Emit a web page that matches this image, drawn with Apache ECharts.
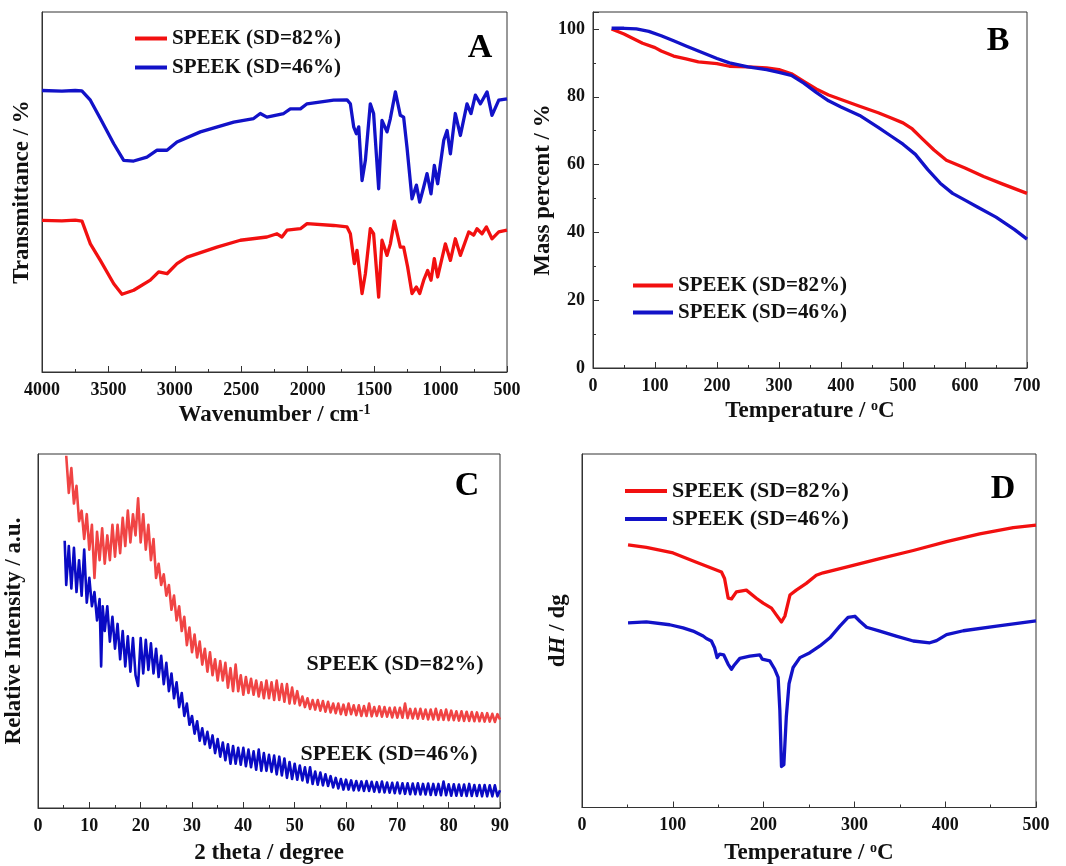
<!DOCTYPE html>
<html>
<head>
<meta charset="utf-8">
<script src="https://cdn.jsdelivr.net/npm/echarts@6/dist/echarts.min.js"></script>
<style>
html,body{margin:0;padding:0;background:#fff;}
#chart{width:1066px;height:866px;}
</style>
</head>
<body>
<div id="chart"></div>
<script>
// ---------- DATA ----------
const seriesNames = ['SPEEK (SD=82%)', 'SPEEK (SD=46%)'];
const panelLetters = ['A', 'B', 'C', 'D'];

// Panel A: FTIR, [wavenumber, transmittance (a.u.)]
const ftirSD82 = [[4000,42.1],[3850,42.0],[3750,42.2],[3699,41.9],[3636,35.6],[3561,31.0],[3460,24.5],[3398,21.6],[3310,22.7],[3185,25.5],[3122,27.8],[3059,27.3],[2984,30.1],[2908,31.9],[2683,34.7],[2507,36.6],[2307,37.5],[2231,38.4],[2194,37.5],[2156,39.4],[2055,39.8],[2005,41.2],[1805,40.7],[1704,40.3],[1679,38.4],[1649,30.1],[1629,33.8],[1591,21.8],[1566,27.3],[1529,39.8],[1504,38.4],[1466,20.8],[1441,36.6],[1403,32.4],[1378,35.6],[1348,41.9],[1303,34.7],[1278,34.7],[1248,29.2],[1215,21.8],[1182,23.6],[1157,21.8],[1127,25.5],[1097,28.2],[1072,25.5],[1047,31.5],[1022,26.4],[964,35.6],[926,31.0],[889,37.0],[851,32.4],[788,38.9],[751,38.0],[726,39.8],[688,38.4],[655,40.3],[613,37.0],[562,38.9],[500,39.4]];
const ftirSD46 = [[4000,78.2],[3850,78.0],[3750,78.2],[3700,78.1],[3636,75.5],[3561,70.4],[3460,63.4],[3385,58.8],[3310,58.6],[3210,59.7],[3134,61.6],[3059,61.6],[2984,63.9],[2808,66.7],[2557,69.4],[2407,70.4],[2357,71.8],[2307,70.8],[2181,71.8],[2131,73.1],[2055,73.1],[2005,74.5],[1805,75.5],[1704,75.6],[1679,74.5],[1654,68.1],[1634,66.2],[1616,68.1],[1591,53.2],[1566,58.8],[1529,74.5],[1504,71.8],[1466,50.9],[1441,69.9],[1403,66.7],[1378,70.4],[1340,77.8],[1303,71.3],[1278,70.8],[1253,62.5],[1215,48.1],[1182,51.9],[1157,47.2],[1127,51.4],[1102,55.1],[1072,49.5],[1047,57.4],[1022,52.3],[976,64.4],[951,67.1],[926,60.6],[889,71.8],[851,65.7],[801,74.5],[771,71.8],[738,76.9],[700,74.5],[650,77.8],[613,71.3],[562,75.5],[500,75.9]];

// Panel B: TGA, [temperature, mass percent]
const tgaSD82 = [[30,100],[50,98.5],[80,95.8],[100,94.5],[110,93.5],[130,92],[150,91.2],[170,90.3],[200,89.8],[220,89],[250,88.8],[280,88.5],[300,88],[320,86.8],[340,84.5],[360,82.3],[380,80.5],[400,79.2],[430,77.2],[460,75.3],[480,73.8],[500,72.3],[515,70.5],[530,67.8],[550,64.3],[570,61.3],[600,59],[630,56.5],[660,54.3],[700,51.5]];
const tgaSD46 = [[30,100.2],[50,100.2],[70,100],[90,99.3],[110,98],[130,96.5],[150,95],[170,93.5],[200,91.3],[220,90],[250,88.8],[280,88],[300,87.2],[320,86.3],[340,84],[360,81.3],[380,78.8],[400,77],[430,74.5],[460,71],[480,68.5],[500,66],[520,63],[540,58.5],[560,54.5],[580,51.5],[600,49.5],[620,47.5],[650,44.5],[680,40.8],[700,38]];

// Panel C: XRD, [2 theta, relative intensity (a.u.)]
const xrdSD82 = [[5.5,99.5],[6,89],[6.5,96],[7,86],[7.5,91],[8,81],[8.5,84],[9,76],[9.5,83],[10,73],[10.5,80],[11,65],[11.5,78],[12,70],[12.5,79],[13,69],[13.5,77],[14,70],[14.5,80],[15,71],[15.5,80],[16,72],[16.5,82],[17,74],[17.5,84],[18,75],[18.5,83],[19,77],[19.5,87.5],[20,75],[20.5,83],[21,73],[21.5,80],[22,70],[22.5,76],[23,65],[23.5,69],[24,63],[24.5,66],[25,60],[25.5,63],[26,56],[26.5,60],[27,53],[27.5,57],[28,50],[28.5,54],[29,46],[29.5,51],[30,44],[30.5,49],[31,42.5],[31.5,47],[32,40.5],[32.5,45],[33,38.5],[33.5,44],[34,37.5],[34.5,42],[35,36],[35.5,41.5],[36,36],[36.5,41],[37,34],[37.5,39.5],[38,33],[38.5,40.5],[39,33],[39.5,37.5],[40,32],[40.5,37],[41,32.5],[41.5,36.5],[42,32],[42.5,36],[43,31.5],[43.5,35.5],[44,31],[44.5,36],[45,31],[45.5,35.5],[46,30.5],[46.5,36],[47,30.5],[47.5,35],[48,30],[48.5,35],[49,29.5],[49.5,34],[50,29.5],[50.5,33],[51,29],[51.5,31.5],[52,28.5],[52.5,31],[53,28],[53.5,30.5],[54,27.8],[54.5,30.5],[55,27.5],[55.5,30.2],[56,27.2],[56.5,30],[57,27],[57.5,29.5],[58,26.8],[58.5,29.5],[59,26.5],[59.5,29.2],[60,26.3],[60.5,29.5],[61,26.5],[61.5,29],[62,26.2],[62.5,29],[63,26],[63.5,28.8],[64,26],[64.5,29.5],[65,25.9],[65.5,28.5],[66,26],[66.5,28.7],[67,25.8],[67.5,28.5],[68,25.8],[68.5,28.3],[69,25.6],[69.5,28.4],[70,25.5],[70.5,28.3],[71,25.5],[71.5,29.5],[72,25.4],[72.5,28],[73,25.3],[73.5,28],[74,25.2],[74.5,28],[75,25.2],[75.5,27.8],[76,25],[76.5,27.8],[77,25],[77.5,28],[78,24.9],[78.5,27.6],[79,24.9],[79.5,27.8],[80,24.8],[80.5,27.5],[81,24.8],[81.5,27.3],[82,24.7],[82.5,27.3],[83,24.6],[83.5,27.2],[84,24.6],[84.5,27.1],[85,24.5],[85.5,27],[86,24.5],[86.5,26.8],[87,24.4],[87.5,26.8],[88,24.4],[88.5,26.6],[89,24.3],[89.5,26.5],[90,25]];
const xrdSD46 = [[5.2,75.5],[5.5,63],[6,74],[6.5,62],[7,73.5],[7.5,61],[8,70],[8.5,60],[9,73],[9.5,58],[10,65],[10.5,57],[11,61],[11.5,53],[12,59],[12.3,40],[12.6,57],[13,50],[13.5,57],[14,47],[14.5,54],[15,45],[15.5,52],[16,42],[16.5,50],[17,40],[17.5,48.5],[18,38.5],[18.5,48],[19,37.5],[19.5,34.5],[20,48],[20.5,38],[21,47.5],[21.5,39],[22,46.5],[22.5,38],[23,45],[23.5,37],[24,43],[24.5,35],[25,41],[25.5,33],[26,38],[26.5,31],[27,35.5],[27.5,28.5],[28,32.5],[28.5,26],[29,29.5],[29.5,23.5],[30,26],[30.5,21],[31,24.5],[31.5,19],[32,22.5],[32.5,18],[33,21.5],[33.5,17],[34,20.5],[34.5,15.5],[35,19.5],[35.5,14.5],[36,18.5],[36.5,13.5],[37,18],[37.5,12.5],[38,17.5],[38.5,12.5],[39,17],[39.5,12.2],[40,17],[40.5,11.8],[41,16.5],[41.5,11.5],[42,16],[42.5,10.8],[43,16.5],[43.5,10.5],[44,15.5],[44.5,10.5],[45,15],[45.5,10.2],[46,14.8],[46.5,9.5],[47,14.5],[47.5,9.2],[48,14],[48.5,8.5],[49,13],[49.5,8.2],[50,12.5],[50.5,8],[51,12],[51.5,7.8],[52,11.5],[52.5,7.2],[53,11.5],[53.5,6.8],[54,10.3],[54.5,6.6],[55,10],[55.5,6.4],[56,9.5],[56.5,6.2],[57,9],[57.5,5.8],[58,8.5],[58.5,5.5],[59,8.2],[59.5,5.2],[60,8],[60.5,5.2],[61,7.8],[61.5,5],[62,7.6],[62.5,5],[63,7.5],[63.5,4.8],[64,7.6],[64.5,4.8],[65,7.4],[65.5,4.6],[66,7.3],[66.5,4.5],[67,7.5],[67.5,4.4],[68,7.2],[68.5,4.3],[69,7.1],[69.5,4.2],[70,7.2],[70.5,4.1],[71,7],[71.5,4],[72,7],[72.5,3.9],[73,6.9],[73.5,3.9],[74,7],[74.5,3.8],[75,6.8],[75.5,3.8],[76,6.9],[76.5,3.7],[77,6.8],[77.5,3.7],[78,6.8],[78.5,3.6],[79,7.5],[79.5,3.6],[80,6.7],[80.5,3.5],[81,6.7],[81.5,3.5],[82,6.6],[82.5,3.5],[83,6.6],[83.5,3.4],[84,6.8],[84.5,3.4],[85,6.5],[85.5,3.4],[86,6.5],[86.5,3.3],[87,6.5],[87.5,3.3],[88,6.4],[88.5,3.3],[89,6.4],[89.5,3.3],[90,5]];

// Panel D: DSC, [temperature, dH/dg (a.u.)]
const dscSD82 = [[50.7,74.3],[70.9,73.6],[100.3,72.0],[126,69.4],[153.6,66.6],[157,64.8],[161,59.2],[164.6,59.0],[170,61.0],[181,61.5],[192,59.2],[199.5,57.8],[208.7,56.4],[214,54.5],[219.7,52.5],[223.4,54.1],[229,60.1],[236,61.5],[247,63.4],[258,65.7],[265.6,66.4],[291,68.0],[328,70.4],[364.8,72.7],[401.5,75.2],[438,77.4],[475,79.2],[500,79.9]];
const dscSD46 = [[50.7,52.2],[70.9,52.5],[96.6,51.7],[111.3,50.8],[122.3,49.9],[133.4,48.5],[137,47.8],[142.5,47.1],[146,45.2],[148.8,42.4],[151.7,43.4],[156,43.2],[161,40.5],[164.6,39.1],[168,40.4],[173.8,42.2],[184.8,42.8],[195.8,43.2],[198.4,42.0],[206.8,41.5],[212.3,39.1],[216,36.8],[217.9,27.5],[219.7,11.6],[222.3,12.1],[225,25.6],[228,35.0],[232.5,39.6],[240,42.4],[251,43.8],[262,45.7],[273,48.0],[284,51.3],[293,53.8],[300.5,54.1],[306,52.7],[313.4,51.0],[328,49.9],[346,48.5],[364.8,47.1],[383,46.6],[390.5,47.2],[401.5,48.9],[420,50.0],[456.7,51.3],[500,52.8]];

// ---------- STYLE ----------
const FONT = '"Liberation Serif","Times New Roman",serif';
const INK = '#111';
const RED = '#f21010';
const BLUE = '#1212c8';
const RED_C = '#f04444';
const BLUE_C = '#0a0ac4';

const chart = echarts.init(document.getElementById('chart'), null, {renderer: 'canvas'});

function xAxisCfg(gridIndex, opts) {
  return Object.assign({
    gridIndex: gridIndex,
    type: 'value',
    nameLocation: 'middle',
    nameGap: 31,
    nameTextStyle: {
      fontFamily: FONT, fontWeight: 'bold', fontSize: 23, color: INK,
      rich: {
        sup: {fontFamily: FONT, fontWeight: 'bold', fontSize: 14, color: INK, verticalAlign: 'top', lineHeight: 24}
      }
    },
    axisLine: {show: true, onZero: false, lineStyle: {color: '#333', width: 1}},
    axisTick: {show: true, inside: true, length: 6, lineStyle: {color: '#333'}},
    minorTick: {show: true, splitNumber: 2, length: 3, lineStyle: {color: '#333'}},
    axisLabel: {fontFamily: FONT, fontWeight: 'bold', fontSize: 18, color: INK, margin: 9,
      formatter: function (v) { return String(v); }},
    splitLine: {show: false}
  }, opts);
}
function yAxisCfg(gridIndex, opts) {
  return Object.assign({
    gridIndex: gridIndex,
    type: 'value',
    nameLocation: 'middle',
    nameRotate: 90,
    nameTextStyle: {
      fontFamily: FONT, fontWeight: 'bold', fontSize: 23, color: INK,
      rich: {
        it: {fontFamily: FONT, fontWeight: 'bold', fontStyle: 'italic', fontSize: 23, color: INK}
      }
    },
    axisLine: {show: true, onZero: false, lineStyle: {color: '#333', width: 1}},
    axisTick: {show: false},
    axisLabel: {show: false},
    splitLine: {show: false}
  }, opts);
}

const gridBase = {show: true, borderColor: '#333', borderWidth: 1, backgroundColor: 'transparent', containLabel: false};

function lineSeries(name, data, idx, color, width) {
  return {
    name: name, type: 'line', data: data,
    xAxisIndex: idx, yAxisIndex: idx,
    showSymbol: false, symbol: 'none', smooth: false,
    lineStyle: {color: color, width: width, join: 'round'},
    itemStyle: {color: color},
    animation: false, silent: true
  };
}

function legendCfg(left, top, iconW, gap, fs) {
  return {
    data: seriesNames, orient: 'vertical', left: left, top: top,
    padding: 0,
    icon: 'rect', itemWidth: iconW, itemHeight: 4, itemGap: gap,
    selectedMode: false,
    textStyle: {fontFamily: FONT, fontWeight: 'bold', fontSize: fs, color: INK}
  };
}

const option = {
  backgroundColor: '#fff',
  animation: false,
  grid: [
    Object.assign({left: 42, top: 12, width: 465, height: 360}, gridBase),
    Object.assign({left: 593, top: 12, width: 434, height: 356}, gridBase),
    Object.assign({left: 38, top: 454, width: 462, height: 356}, gridBase),
    Object.assign({left: 582, top: 454, width: 454, height: 358}, gridBase)
  ],
  xAxis: [
    xAxisCfg(0, {min: 500, max: 4000, interval: 500, inverse: true, name: 'Wavenumber / cm{sup|-1}'}),
    xAxisCfg(1, {min: 0, max: 700, interval: 100, name: 'Temperature / {sup|o}C'}),
    xAxisCfg(2, {min: 0, max: 90, interval: 10, name: '2 theta / degree', nameGap: 34}),
    xAxisCfg(3, {min: 0, max: 500, interval: 100, name: 'Temperature / {sup|o}C', nameGap: 34})
  ],
  yAxis: [
    yAxisCfg(0, {min: 0, max: 100, name: 'Transmittance / %', nameGap: 8}),
    yAxisCfg(1, {min: 0, max: 105, interval: 20, name: 'Mass percent / %', nameGap: 35,
      axisTick: {show: true, inside: true, length: 6, lineStyle: {color: '#333'}},
      minorTick: {show: true, splitNumber: 2, length: 3, lineStyle: {color: '#333'}},
      axisLabel: {show: true, fontFamily: FONT, fontWeight: 'bold', fontSize: 18, color: INK, margin: 8, showMaxLabel: false}}),
    yAxisCfg(2, {min: 0, max: 100, name: 'Relative Intensity / a.u.', nameGap: 12}),
    yAxisCfg(3, {min: 0, max: 100, name: 'd{it|H} / dg', nameGap: 12})
  ],
  legend: [
    legendCfg(135, 28, 32, 8, 21),
    legendCfg(633, 275, 40, 6, 21),
    legendCfg(625, 480, 42, 6, 22)
  ],
  series: [
    lineSeries(seriesNames[0], ftirSD82, 0, RED, 3.3),
    lineSeries(seriesNames[1], ftirSD46, 0, BLUE, 3.3),
    lineSeries(seriesNames[0], tgaSD82, 1, RED, 3.3),
    lineSeries(seriesNames[1], tgaSD46, 1, BLUE, 3.3),
    lineSeries(seriesNames[0], xrdSD82, 2, RED_C, 2.6),
    lineSeries(seriesNames[1], xrdSD46, 2, BLUE_C, 2.6),
    lineSeries(seriesNames[0], dscSD82, 3, RED, 3.3),
    lineSeries(seriesNames[1], dscSD46, 3, BLUE, 3.3)
  ],
  graphic: [
    {type: 'text', x: 480, y: 48, style: {text: panelLetters[0], font: 'bold 34px ' + FONT, fill: '#000', align: 'center', verticalAlign: 'middle'}},
    {type: 'text', x: 998, y: 41, style: {text: panelLetters[1], font: 'bold 34px ' + FONT, fill: '#000', align: 'center', verticalAlign: 'middle'}},
    {type: 'text', x: 467, y: 486, style: {text: panelLetters[2], font: 'bold 34px ' + FONT, fill: '#000', align: 'center', verticalAlign: 'middle'}},
    {type: 'text', x: 1003, y: 489, style: {text: panelLetters[3], font: 'bold 34px ' + FONT, fill: '#000', align: 'center', verticalAlign: 'middle'}},
    {type: 'text', x: 395, y: 664, style: {text: seriesNames[0], font: 'bold 22px ' + FONT, fill: INK, align: 'center', verticalAlign: 'middle'}},
    {type: 'text', x: 389, y: 754, style: {text: seriesNames[1], font: 'bold 22px ' + FONT, fill: INK, align: 'center', verticalAlign: 'middle'}}
  ]
};

chart.setOption(option);
</script>
</body>
</html>
